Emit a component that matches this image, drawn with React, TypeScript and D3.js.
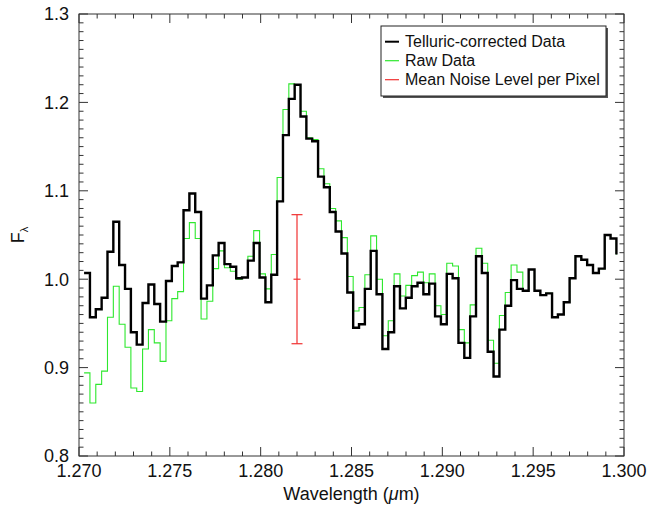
import React from "react";
import * as d3 from "d3";

// spectrum sampling (uniform dispersion), flux values read per pixel
const wavelengthStart = 1.27028;
const wavelengthStep = 0.000322;

const correctedFlux = [
  1.007, 0.957, 0.966, 0.979, 1.031, 1.065, 1.016, 0.989, 0.94, 0.926,
  0.973, 0.994, 0.972, 0.952, 0.998, 1.015, 1.019, 1.078, 1.097, 1.076,
  0.978, 0.993, 1.027, 1.041, 1.017, 1.014, 1.001, 1.002, 1.021, 1.041,
  1.002, 0.974, 1.005, 1.088, 1.163, 1.204, 1.22, 1.184, 1.159, 1.156,
  1.116, 1.104, 1.076, 1.054, 1.029, 0.985, 0.945, 0.949, 0.989, 1.032,
  0.983, 0.921, 0.94, 0.992, 0.967, 0.979, 0.992, 0.996, 0.983, 0.995,
  0.958, 0.949, 1.006, 1.001, 0.928, 0.911, 0.958, 1.026, 1.007, 0.918,
  0.89, 0.943, 0.97, 0.999, 0.989, 0.987, 1.011, 0.987, 0.982, 0.984,
  0.957, 0.96, 0.974, 1.001, 1.026, 1.022, 1.016, 1.007, 1.012, 1.05,
  1.046, 1.028,
];

const rawFlux = [
  0.894, 0.86, 0.881, 0.896, 0.957, 0.992, 0.949, 0.923, 0.877, 0.873,
  0.921, 0.943, 0.928, 0.907, 0.953, 0.978, 0.986, 1.046, 1.064, 1.046,
  0.955, 0.975, 1.012, 1.032, 1.013, 1.009, 1.0, 1.002, 1.026, 1.055,
  1.006, 0.989, 1.028, 1.115, 1.192, 1.221, 1.22, 1.19, 1.16, 1.158,
  1.125, 1.108, 1.08, 1.066, 1.047, 1.003, 0.964, 0.968, 1.005, 1.049,
  1.0, 0.936, 0.953, 1.006, 0.981, 0.993, 1.004, 1.008, 0.996, 1.006,
  0.97, 0.96, 1.018, 1.015, 0.943, 0.928, 0.971, 1.035, 1.018, 0.931,
  0.905, 0.959, 0.985, 1.016, 1.008, 0.987, 1.011, 0.987, 0.982, 0.984,
  0.957, 0.96, 0.974, 1.001, 1.026, 1.022, 1.016, 1.007, 1.012, 1.05,
  1.046, 1.028,
];

const noiseWavelength = 1.282;
const noiseCenter = 1.0;
const noiseSigma = 0.073;

const xTickLabels = ["1.270", "1.275", "1.280", "1.285", "1.290", "1.295", "1.300"];
const yTickLabels = ["0.8", "0.9", "1.0", "1.1", "1.2", "1.3"];
const legendLabels = ["Telluric-corrected Data", "Raw Data", "Mean Noise Level per Pixel"];
const legendColors = ["#000000", "#2ee82e", "#f03030"];

const width = 651;
const height = 508;
const margin = { top: 14, right: 27, bottom: 52, left: 79 };
const font = "'Liberation Sans', Arial, Helvetica, sans-serif";

export default function App() {
  const x = d3
    .scaleLinear()
    .domain([1.27, 1.3])
    .range([margin.left, width - margin.right]);
  const y = d3
    .scaleLinear()
    .domain([0.8, 1.3])
    .range([height - margin.bottom, margin.top]);

  const line = d3
    .line<number>()
    .x((_, i) => x(wavelengthStart + i * wavelengthStep))
    .y((d) => y(d))
    .curve(d3.curveStepAfter);

  const [x0, x1] = x.range();
  const [y0, y1] = y.range();

  const xMajor = x.ticks(6);
  const xMinor = x.ticks(30);
  const yMajor = y.ticks(5);
  const yMinor = y.ticks(50);
  const isMajor = (v: number, list: number[]) =>
    list.some((m) => Math.abs(m - v) < 1e-9);

  const ex = x(noiseWavelength);

  return (
    <svg
      width={width}
      height={height}
      style={{ position: "absolute", left: 0, top: 0, background: "#fff" }}
      fontFamily={font}
    >
      <rect x={0} y={0} width={width} height={height} fill="#fff" />

      {/* data */}
      <path d={line(rawFlux) || ""} fill="none" stroke={legendColors[1]} strokeWidth={1.1} />
      <path
        d={line(correctedFlux) || ""}
        fill="none"
        stroke="#000"
        strokeWidth={2.4}
        strokeLinejoin="miter"
      />

      {/* noise bar */}
      <g stroke={legendColors[2]} strokeWidth={1.2}>
        <line x1={ex} x2={ex} y1={y(noiseCenter + noiseSigma)} y2={y(noiseCenter - noiseSigma)} />
        <line x1={ex - 5.5} x2={ex + 5.5} y1={y(noiseCenter + noiseSigma)} y2={y(noiseCenter + noiseSigma)} />
        <line x1={ex - 5.5} x2={ex + 5.5} y1={y(noiseCenter - noiseSigma)} y2={y(noiseCenter - noiseSigma)} />
        <line x1={ex - 3.5} x2={ex + 3.5} y1={y(noiseCenter)} y2={y(noiseCenter)} />
      </g>

      {/* frame and ticks */}
      <g stroke="#333" strokeWidth={1}>
        <rect x={x0} y={y1} width={x1 - x0} height={y0 - y1} fill="none" />
        {xMinor.map((v) => {
          const len = isMajor(v, xMajor) ? 9 : 4.5;
          return (
            <g key={"xt" + v}>
              <line x1={x(v)} x2={x(v)} y1={y0} y2={y0 - len} />
              <line x1={x(v)} x2={x(v)} y1={y1} y2={y1 + len} />
            </g>
          );
        })}
        {yMinor.map((v) => {
          const len = isMajor(v, yMajor) ? 9 : 4.5;
          return (
            <g key={"yt" + v}>
              <line x1={x0} x2={x0 + len} y1={y(v)} y2={y(v)} />
              <line x1={x1} x2={x1 - len} y1={y(v)} y2={y(v)} />
            </g>
          );
        })}
      </g>

      {/* tick labels */}
      {xMajor.map((v, i) => (
        <text key={"xl" + i} x={x(v)} y={y0 + 21} textAnchor="middle" fontSize={18} fill="#111">
          {xTickLabels[i]}
        </text>
      ))}
      {yMajor.map((v, i) => (
        <text key={"yl" + i} x={x0 - 10} y={y(v)} dy="0.35em" textAnchor="end" fontSize={18} fill="#111">
          {yTickLabels[i]}
        </text>
      ))}

      {/* axis titles */}
      <text x={(x0 + x1) / 2} y={height - 8} textAnchor="middle" fontSize={18} fill="#111">
        Wavelength (<tspan fontStyle="italic">μ</tspan>m)
      </text>
      <text transform={`translate(24,${(y0 + y1) / 2}) rotate(-90)`} textAnchor="middle" fontSize={18} fill="#111">
        F<tspan fontSize={11} dy={4}>λ</tspan>
      </text>

      {/* legend */}
      <g>
        <rect x={383} y={28} width={225} height={70} fill="#555" />
        <rect x={381} y={26} width={225} height={70} fill="#fff" stroke="#222" strokeWidth={1} />
        {legendLabels.map((label, i) => (
          <g key={label} transform={`translate(385,${41.7 + i * 19})`}>
            <line x1={0} x2={14} y1={0} y2={0} stroke={legendColors[i]} strokeWidth={i === 0 ? 2 : 1.2} />
            <text x={20} y={0} dy="0.35em" fontSize={16} fill="#111">
              {label}
            </text>
          </g>
        ))}
      </g>
    </svg>
  );
}
